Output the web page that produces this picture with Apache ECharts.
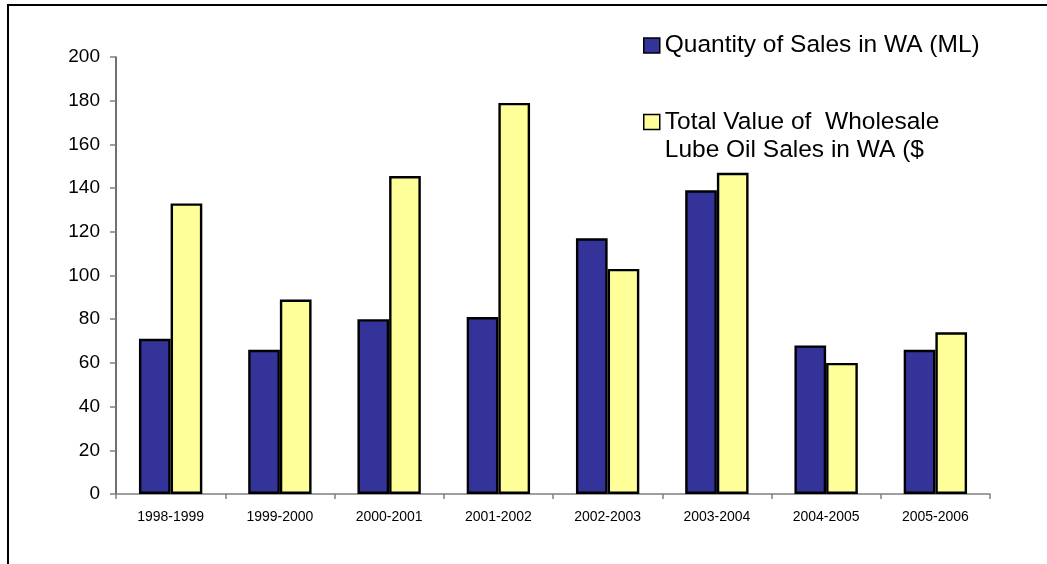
<!DOCTYPE html>
<html>
<head>
<meta charset="utf-8">
<style>
  html, body { margin: 0; padding: 0; background: #fff; }
  #chart { width: 1047px; height: 564px; }
</style>
<script src="https://cdn.jsdelivr.net/npm/echarts@6/dist/echarts.min.js"></script>
</head>
<body>
<div id="chart"></div>
<script>
// Financial years shown on the category axis
const years = ['1998-1999', '1999-2000', '2000-2001', '2001-2002', '2002-2003', '2003-2004', '2004-2005', '2005-2006'];

// Series names as shown in the legend
const quantityName = 'Quantity of Sales in WA (ML)';
const valueName = 'Total Value of  Wholesale Lube Oil Sales in WA ($';
const valueLabelLines = ['Total Value of  Wholesale', 'Lube Oil Sales in WA ($'];

// Yearly figures
const quantitySales = [71, 66, 80, 81, 117, 139, 68, 66];
const wholesaleValue = [133, 89, 145.5, 179, 103, 147, 60, 74];

// Value axis range
const yMin = 0;
const yMax = 200;
const yStep = 20;

const FONT = '"Liberation Sans", Arial, sans-serif';

const chart = echarts.init(document.getElementById('chart'), null, { renderer: 'canvas' });

const barBorder = { borderColor: '#000', borderWidth: 2.4 };

chart.setOption({
  animation: false,
  backgroundColor: '#fff',
  textStyle: { fontFamily: FONT, color: '#000' },
  graphic: [{
    // outer frame, open to the right and bottom edges
    type: 'rect',
    silent: true,
    shape: { x: 8, y: 5, width: 2000, height: 2000 },
    style: { fill: 'none', stroke: '#000', lineWidth: 2 }
  }],
  legend: [{
    left: 638,
    top: 28,
    itemWidth: 16,
    itemHeight: 15,
    icon: 'rect',
    selectedMode: false,
    data: [quantityName],
    itemStyle: { borderColor: '#000', borderWidth: 1.5 },
    textStyle: { fontFamily: FONT, fontSize: 24.5, color: '#000' }
  }, {
    left: 638,
    top: 75,
    itemWidth: 16,
    itemHeight: 15,
    icon: 'rect',
    selectedMode: false,
    data: [valueName],
    itemStyle: { borderColor: '#000', borderWidth: 1.5 },
    // leading blank line keeps the swatch level with the first text line
    formatter: () => '\n' + valueLabelLines.join('\n'),
    textStyle: { fontFamily: FONT, fontSize: 24.5, lineHeight: 28, color: '#000' }
  }],
  grid: {
    left: 116,
    right: 57,
    top: 57,
    bottom: 70,
    containLabel: false
  },
  xAxis: {
    type: 'category',
    data: years,
    boundaryGap: true,
    axisLine: { lineStyle: { color: '#808080', width: 1.5 } },
    axisTick: { show: true, length: 5, lineStyle: { color: '#808080', width: 1.5 } },
    axisLabel: { margin: 16, fontSize: 14, color: '#000', fontFamily: FONT, interval: 0 },
    splitLine: { show: false }
  },
  yAxis: {
    type: 'value',
    min: yMin,
    max: yMax,
    interval: yStep,
    axisLine: { show: true, lineStyle: { color: '#404040', width: 1.5 } },
    axisTick: { show: true, length: 6, lineStyle: { color: '#808080', width: 1.5 } },
    axisLabel: { margin: 16, fontSize: 19, color: '#000', fontFamily: FONT },
    splitLine: { show: false }
  },
  series: [{
    name: quantityName,
    type: 'bar',
    data: quantitySales,
    barGap: '0%',
    barCategoryGap: '42%',
    itemStyle: Object.assign({ color: '#333399' }, barBorder)
  }, {
    name: valueName,
    type: 'bar',
    data: wholesaleValue,
    barGap: '0%',
    barCategoryGap: '42%',
    itemStyle: Object.assign({ color: '#FFFF99' }, barBorder)
  }]
});
</script>
</body>
</html>
